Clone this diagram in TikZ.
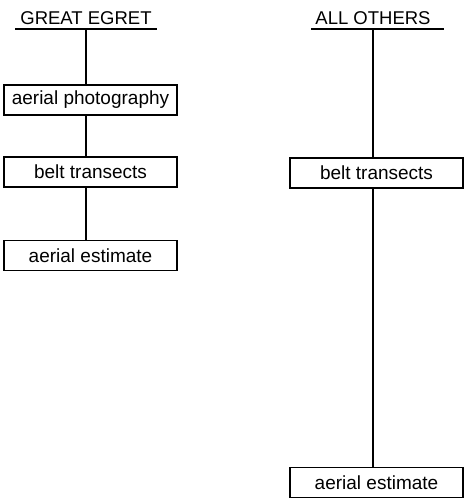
\documentclass[tikz,border=0pt]{standalone}
\usepackage{fontspec}
\setmainfont{Liberation Sans}
\usepackage{tikz}
\usetikzlibrary{positioning}

\begin{document}
\begin{tikzpicture}[x=1pt, y=-1pt, line width=1.2pt,
    method/.style={draw, minimum width=173pt, minimum height=30pt, inner sep=0pt, font=\fontsize{19}{22}\selectfont},
    head/.style={anchor=base, inner xsep=7pt, font=\fontsize{18.5}{22}\selectfont}]
    \useasboundingbox (0,0) rectangle (464,500);
    % left column
    \node[head] (ge) at (86,25) {GREAT EGRET};
    \coordinate (geu) at (86,29);
    \draw (15,29) -- (157,29);
    \node[method] (ap) at (90.5,100) {aerial photography};
    \node[method] (bt1) at (90.5,172) {belt transects};
    \node[method] (ae1) at (90.5,255.5) {aerial estimate};
    \draw (geu) -- (geu |- ap.north);
    \draw (geu |- ap.south) -- (geu |- bt1.north);
    \draw (geu |- bt1.south) -- (geu |- ae1.north);

    % right column
    \node[head] (ao) at (373,25) {ALL OTHERS};
    \coordinate (aou) at (373,29);
    \draw (311,29) -- (444,29);
    \node[method] (bt2) at (376.5,173) {belt transects};
    \node[method] (ae2) at (376.5,482.5) {aerial estimate};
    \draw (aou) -- (aou |- bt2.north);
    \draw (aou |- bt2.south) -- (aou |- ae2.north);
\end{tikzpicture}
\end{document}
